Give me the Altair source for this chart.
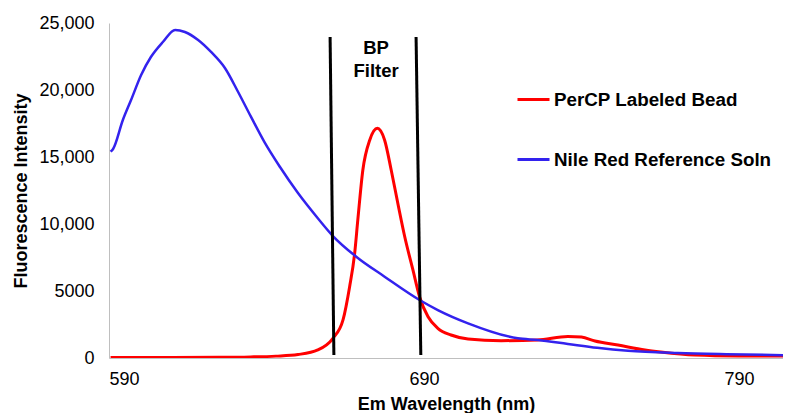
import altair as alt
import pandas as pd

# Nile Red Reference Soln (blue)
nile_x = [590.5, 591.3, 594.4, 597.0, 600.2, 603.3, 607.1, 611.0, 614.1, 618.3, 622.4,
          626.8, 631.0, 635.1, 639.5, 644.3, 650.0, 656.3, 661.1, 668.5, 677.5,
          688.6, 694.4, 704.0, 719.8, 726.2, 735.7, 745.0, 754.8, 770.6, 786.0, 804.0]
nile_y = [15400, 15600, 17760, 19250, 21120, 22460, 23580, 24480, 24330, 23730, 22840,
          21640, 19850, 17990, 16050, 14250, 12310, 10430, 9100, 7560, 6070,
          4330, 3580, 2590, 1470, 1340, 1045, 760, 540, 370, 280, 210]

# PerCP Labeled Bead (red)
percp_x = [590.5, 610, 625, 635, 643, 650, 656.3, 661.1, 664.3, 666.4, 668.0, 669.0,
           670.6, 672.8, 675.2, 677.5, 679.6, 681.7, 683.9, 686.5, 688.6, 691.3,
           694.4, 698.6, 704.0, 714.5, 726.0, 735.7, 740.0, 744.3, 751.6, 760.2, 765.2,
           776.0, 790.0, 804.0]
percp_y = [30, 40, 50, 80, 140, 260, 600, 1470, 2840, 5320, 7810, 10300,
           14030, 16270, 17140, 16270, 14030, 11550, 9050, 6570, 4575, 3080,
           2215, 1715, 1420, 1294, 1343, 1600, 1560, 1270, 970, 600, 450,
           220, 150, 140]

series_names = ["PerCP Labeled Bead", "Nile Red Reference Soln"]
series_colors = ["#FF0000", "#3322EE"]

# BP filter lines (slightly slanted, as drawn)
filter_x = [660.2, 687.5]
filter_x2 = [661.4, 689.0]
filter_y = [23950, 23950]
filter_y2 = [220, 220]

label_x = [674.8]
label_y = [23150]
label_text = ["BP\nFilter"]

x_ticks = [590, 690, 790]
y_ticks = [0, 5000, 10000, 15000, 20000, 25000]

FONT = "Liberation Sans"

df_red = pd.DataFrame({"x": percp_x, "y": percp_y, "series": series_names[0]})
df_blue = pd.DataFrame({"x": nile_x, "y": nile_y, "series": series_names[1]})
df_filter = pd.DataFrame({"x": filter_x, "x2": filter_x2, "y": filter_y, "y2": filter_y2})
df_label = pd.DataFrame({"x": label_x, "y": label_y, "t": label_text})

xscale = alt.Scale(domain=[590, 804], nice=False, zero=False)
yscale = alt.Scale(domain=[0, 25000], nice=False)

x_enc = alt.X("x:Q", scale=xscale,
              axis=alt.Axis(values=x_ticks, title="Em Wavelength (nm)", grid=False, ticks=False,
                            labelPadding=12, titlePadding=7, domainColor="#BFBFBF"))
y_enc = alt.Y("y:Q", scale=yscale,
              axis=alt.Axis(values=y_ticks, title="Fluorescence Intensity", grid=False, ticks=False,
                            labelPadding=15, titlePadding=8, domainColor="#BFBFBF",
                            labelExpr="datum.value >= 10000 ? format(datum.value, ',') : format(datum.value, 'd')"))

color_enc = alt.Color("series:N",
                      scale=alt.Scale(domain=series_names, range=series_colors),
                      legend=alt.Legend(orient="none", legendX=407, legendY=59, title=None,
                                        symbolType="stroke", symbolSize=1024, symbolStrokeWidth=3,
                                        labelFont=FONT, labelFontSize=18.8, labelFontWeight="bold",
                                        labelColor="#000000", labelOffset=3, rowPadding=32,
                                        labelLimit=0, padding=0))

red = alt.Chart(df_red).mark_line(strokeWidth=3, interpolate="monotone", clip=True).encode(
    x=x_enc, y=y_enc, color=color_enc)
blue = alt.Chart(df_blue).mark_line(strokeWidth=2.5, interpolate="monotone", clip=True).encode(
    x=x_enc, y=y_enc, color=color_enc)

filters = alt.Chart(df_filter).mark_rule(color="black", strokeWidth=3).encode(
    x="x:Q", x2="x2:Q", y="y:Q", y2="y2:Q")

label = alt.Chart(df_label).mark_text(font=FONT, fontSize=18.5, fontWeight="bold", color="black",
                                      lineBreak="\n", baseline="middle", lineHeight=23).encode(
    x="x:Q", y="y:Q", text="t:N")

chart = alt.layer(red, blue, filters, label).properties(
    width=674, height=335,
    padding={"left": 4, "top": 6, "right": 0, "bottom": 0}
).configure_view(stroke=None).configure_axis(
    labelFont=FONT, labelFontSize=18, labelColor="#000000",
    titleFont=FONT, titleFontSize=18, titleFontWeight="bold", titleColor="#000000"
)

chart.save("out.html", embed_options={"renderer": "svg", "actions": False})
